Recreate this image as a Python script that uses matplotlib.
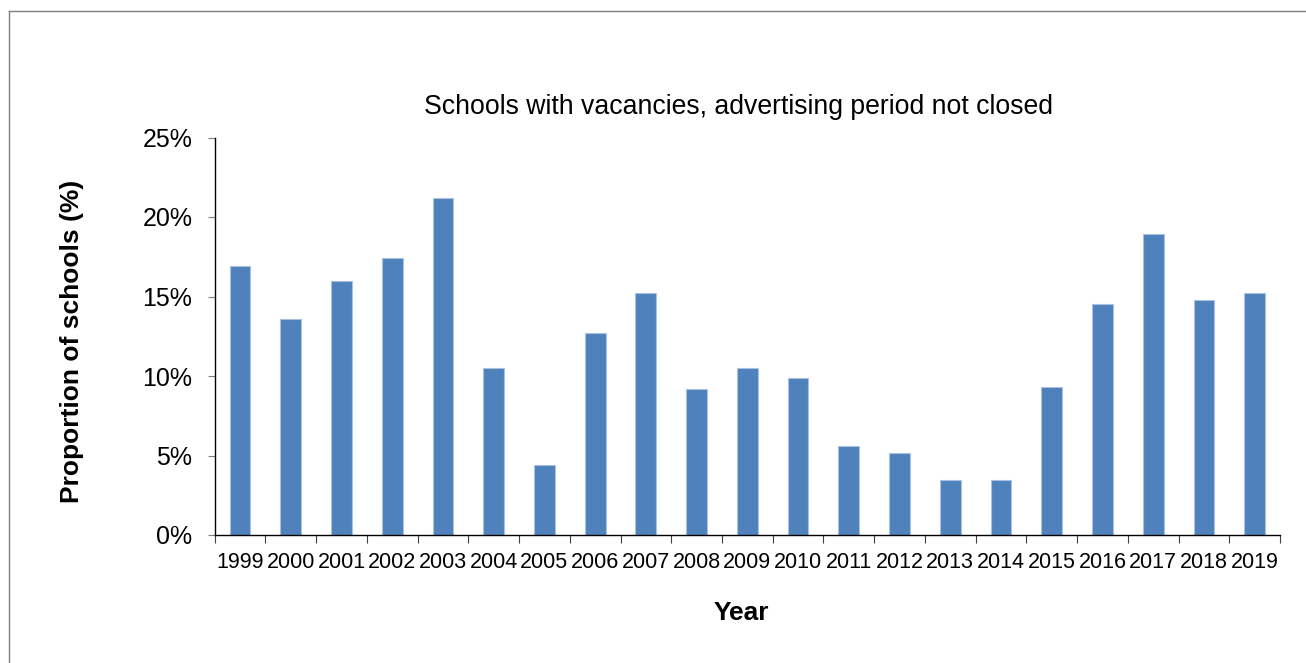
import numpy as np
import matplotlib
matplotlib.use("Agg")
import matplotlib.pyplot as plt
from matplotlib.lines import Line2D
from matplotlib.ticker import FuncFormatter

years = [str(y) for y in range(1999, 2020)]
share = [16.9, 13.6, 16.0, 17.4, 21.2, 10.5, 4.4, 12.7, 15.2, 9.2, 10.5,
         9.85, 5.6, 5.15, 3.45, 3.45, 9.3, 14.55, 18.95, 14.8, 15.25]

title = "Schools with vacancies, advertising period not closed"
x_label = "Year"
y_label = "Proportion of schools (%)"

W, H = 1306, 663
plt.rcParams['font.family'] = ['Liberation Sans', 'DejaVu Sans']

fig = plt.figure(figsize=(W / 100, H / 100), dpi=100)
ax = fig.add_axes([214.7 / W, 1 - 535 / H, (1280 - 214.7) / W, (535 - 137.5) / H])

x = np.arange(len(years))
ax.bar(x, share, width=0.41, color="#4F81BD", edgecolor="#a9c1de", linewidth=0.8, zorder=2)

ax.set_xlim(-0.5, len(years) - 0.5)
ax.set_ylim(0, 25)
ax.set_yticks(np.arange(0, 26, 5))
ax.yaxis.set_major_formatter(FuncFormatter(lambda v, p: f"{v:.0f}%"))

# category boundaries get the tick marks, centres get the labels
ax.set_xticks(np.arange(-0.5, len(years), 1))
ax.set_xticklabels([])
ax.set_xticks(x, minor=True)
ax.set_xticklabels(years, minor=True)

ax.tick_params(axis="x", which="major", direction="out", length=5.5, width=0.8, color="#404040")
ax.tick_params(axis="x", which="minor", length=0, pad=12, labelsize=15.5)
ax.tick_params(axis="y", direction="out", length=5, width=0.8, color="#7f7f7f", pad=11, labelsize=18)

for side in ["top", "right"]:
    ax.spines[side].set_visible(False)
for side in ["left", "bottom"]:
    ax.spines[side].set_color("black")
    ax.spines[side].set_linewidth(1.0)

fig.text(738.5 / W, 1 - 107 / H, title, ha="center", va="center", fontsize=19.2)
fig.text(741.5 / W, 1 - 612.5 / H, x_label, ha="center", va="center", fontsize=19, fontweight="bold")
fig.text(72 / W, 1 - 341 / H, y_label, ha="center", va="center", rotation=90,
         fontsize=19, fontweight="bold")

# outer chart frame (only top and left edges fall inside the picture)
fig.add_artist(Line2D([9 / W, 1.0], [1 - 11 / H, 1 - 11 / H], color="#7f7f7f", linewidth=1.0))
fig.add_artist(Line2D([9 / W, 9 / W], [0.0, 1 - 11 / H], color="#7f7f7f", linewidth=1.0))

fig.savefig("out.png", dpi=100)
